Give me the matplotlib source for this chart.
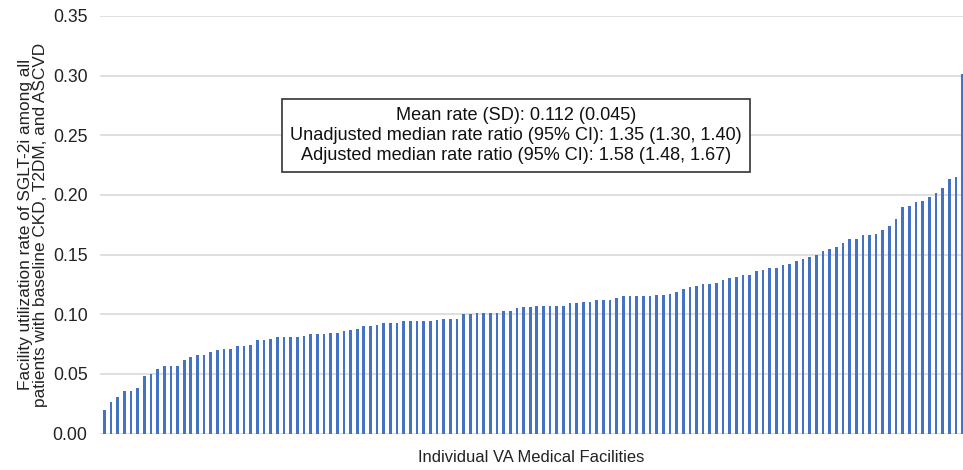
import matplotlib.pyplot as plt
import numpy as np

plt.rcParams['font.family'] = ['Liberation Sans', 'DejaVu Sans']

# facility utilization rates, sorted
rates = [
    0.020, 0.026, 0.031, 0.036, 0.036, 0.038, 0.048, 0.050, 0.054, 0.057,
    0.057, 0.057, 0.062, 0.064, 0.066, 0.066, 0.068, 0.070, 0.071, 0.071,
    0.073, 0.073, 0.074, 0.078, 0.078, 0.079, 0.081, 0.081, 0.081, 0.081,
    0.082, 0.083, 0.083, 0.083, 0.084, 0.084, 0.086, 0.087, 0.088, 0.090,
    0.090, 0.091, 0.093, 0.093, 0.093, 0.094, 0.094, 0.094, 0.094, 0.094,
    0.095, 0.096, 0.096, 0.096, 0.100, 0.100, 0.101, 0.101, 0.101, 0.101,
    0.103, 0.103, 0.105, 0.106, 0.106, 0.107, 0.107, 0.107, 0.107, 0.107,
    0.109, 0.109, 0.110, 0.110, 0.112, 0.112, 0.112, 0.114, 0.115, 0.115,
    0.115, 0.115, 0.115, 0.116, 0.116, 0.117, 0.119, 0.121, 0.123, 0.124,
    0.125, 0.125, 0.126, 0.129, 0.130, 0.131, 0.133, 0.133, 0.136, 0.137,
    0.139, 0.139, 0.141, 0.142, 0.145, 0.146, 0.148, 0.150, 0.153, 0.155,
    0.156, 0.160, 0.163, 0.163, 0.166, 0.166, 0.167, 0.171, 0.174, 0.180,
    0.190, 0.191, 0.194, 0.195, 0.198, 0.202, 0.206, 0.213, 0.215, 0.301,
]

yticks = [0.00, 0.05, 0.10, 0.15, 0.20, 0.25, 0.30, 0.35]

stats_text = [
    'Mean rate (SD): 0.112 (0.045)',
    'Unadjusted median rate ratio (95% CI): 1.35 (1.30, 1.40)',
    'Adjusted median rate ratio (95% CI): 1.58 (1.48, 1.67)',
]

fig = plt.figure(figsize=(9.63, 4.70), dpi=100)
ax = fig.add_axes([100 / 963, 36.5 / 470, 1 - 100 / 963, (454 - 36.5) / 470])

x = np.arange(len(rates))
ax.bar(x, rates, width=0.4, color='#4472C4', zorder=3)

ax.set_ylim(0, 0.35)
ax.set_xlim(-0.65, len(rates) - 1 + 0.05)
ax.set_yticks(yticks)
ax.set_yticklabels([f'{t:.2f}' for t in yticks], fontsize=12.7, color='#222222')
ax.set_xticks([])
ax.tick_params(axis='y', length=0, pad=9)
ax.grid(axis='y', color='#d9d9d9', linewidth=1.2, zorder=0)
for s in ax.spines.values():
    s.set_visible(False)

ax.set_xlabel('Individual VA Medical Facilities', fontsize=11.9, color='#222222', labelpad=12)
ax.set_ylabel('Facility utilization rate of SGLT-2i among all\npatients with baseline CKD, T2DM, and ASCVD',
              fontsize=12.4, color='#222222', linespacing=1.0)
ax.yaxis.set_label_coords(-52 / 863, 0.5)

ax.text((516 - 100) / 863, (470 - 135.5 - 36.5) / 417.5, '\n'.join(stats_text),
        transform=ax.transAxes, ha='center', va='center', multialignment='center',
        fontsize=13.1, color='#111111', linespacing=1.2,
        bbox=dict(boxstyle='square,pad=0.45', facecolor='white', edgecolor='#333333', linewidth=1.2),
        zorder=5)

fig.savefig('out.png', dpi=100)
